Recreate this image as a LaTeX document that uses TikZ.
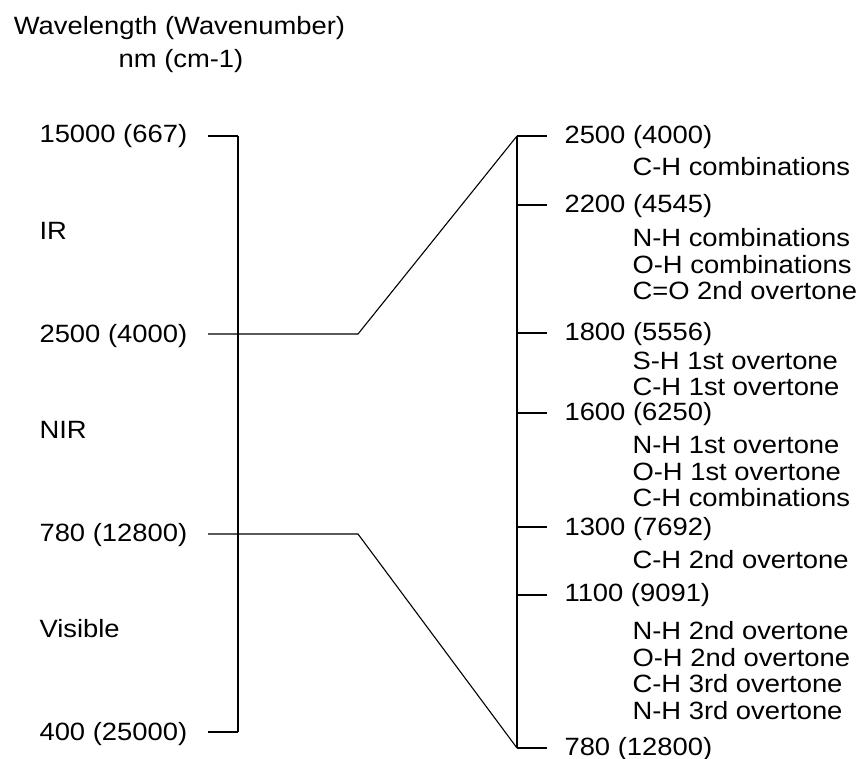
\documentclass[tikz,border=0pt]{standalone}
\usepackage{fontspec}
\setmainfont[FakeStretch=1.095]{Liberation Sans}
\usepackage{tikz}
\usetikzlibrary{positioning}
\tikzstyle{lbl}=[anchor=base west,inner sep=0pt,font=\fontsize{25}{26}\selectfont]
\tikzstyle{head}=[anchor=base,inner sep=0pt,font=\fontsize{25}{26}\selectfont]

\begin{document}
\begin{tikzpicture}[x=1pt,y=-1pt,line width=1.1pt]
		\useasboundingbox (0,0) rectangle (862,759);
		% heading
		\node[head] (title) at (179.5,35) {Wavelength (Wavenumber)};
		\node[head] (unit) at (181,67.5) {nm (cm-1)};
		% left scale
		\coordinate (ltop) at (238,136);
		\coordinate (lbot) at (238,732);
		\coordinate (l15000) at (208,136);
		\coordinate (l2500) at (208,334);
		\coordinate (l780) at (208,534);
		\coordinate (l400) at (208,732);
		\coordinate (kneetop) at (358,334);
		\coordinate (kneebot) at (358,534);
		\draw (ltop) -- (lbot);
		\draw (l15000) -- (ltop);
		\draw (l400) -- (lbot);
		% right scale
		\coordinate (rtop) at (517,136);
		\coordinate (rbot) at (517,748);
		\draw (rtop) -- (rbot);
		\foreach \y/\n in {136/a,205/b,333/c,413/d,527/e,595/f,748/g}{
			\coordinate (r\n) at (547,\y);
			\draw (r\n -| rtop) -- (r\n);
		}
		% connection
		\draw (l2500) -- (kneetop) -- (rtop);
		\draw (l780) -- (kneebot) -- (rbot);
		% left labels
		\node[lbl] (n15000) at (39,143) {15000 (667)};
		\node[lbl] (ir) at (39,239.3) {IR};
		\node[lbl] (n2500) at (39,342.7) {2500 (4000)};
		\node[lbl] (nir) at (39,438) {NIR};
		\node[lbl] (n780) at (39,541.7) {780 (12800)};
		\node[lbl] (vis) at (39,637) {Visible};
		\node[lbl] (n400) at (39,740) {400 (25000)};
		% right labels
		\node[lbl] (m2500) at (564,143.3) {2500 (4000)};
		\node[lbl] (m2200) at (564,212.3) {2200 (4545)};
		\node[lbl] (m1800) at (564,340.7) {1800 (5556)};
		\node[lbl] (m1600) at (564,420) {1600 (6250)};
		\node[lbl] (m1300) at (564,535) {1300 (7692)};
		\node[lbl] (m1100) at (564,601.7) {1100 (9091)};
		\node[lbl] (m780) at (564,755) {780 (12800)};
		% bands
		\node[lbl] (ba) at (632,176) {C-H combinations};
		\node[lbl] (bb1) at (632,246.7) {N-H combinations};
		\node[lbl] (bb2) at (632,273.3) {O-H combinations};
		\node[lbl] (bb3) at (632,299.3) {C=O 2nd overtone};
		\node[lbl] (bc1) at (632,369) {S-H 1st overtone};
		\node[lbl] (bc2) at (632,395.5) {C-H 1st overtone};
		\node[lbl] (bd1) at (632,453.3) {N-H 1st overtone};
		\node[lbl] (bd2) at (632,480) {O-H 1st overtone};
		\node[lbl] (bd3) at (632,506.7) {C-H combinations};
		\node[lbl] (be) at (632,568.3) {C-H 2nd overtone};
		\node[lbl] (bf1) at (632,639.3) {N-H 2nd overtone};
		\node[lbl] (bf2) at (632,666) {O-H 2nd overtone};
		\node[lbl] (bf3) at (632,692.7) {C-H 3rd overtone};
		\node[lbl] (bf4) at (632,719.3) {N-H 3rd overtone};
	\end{tikzpicture}
\end{document}
